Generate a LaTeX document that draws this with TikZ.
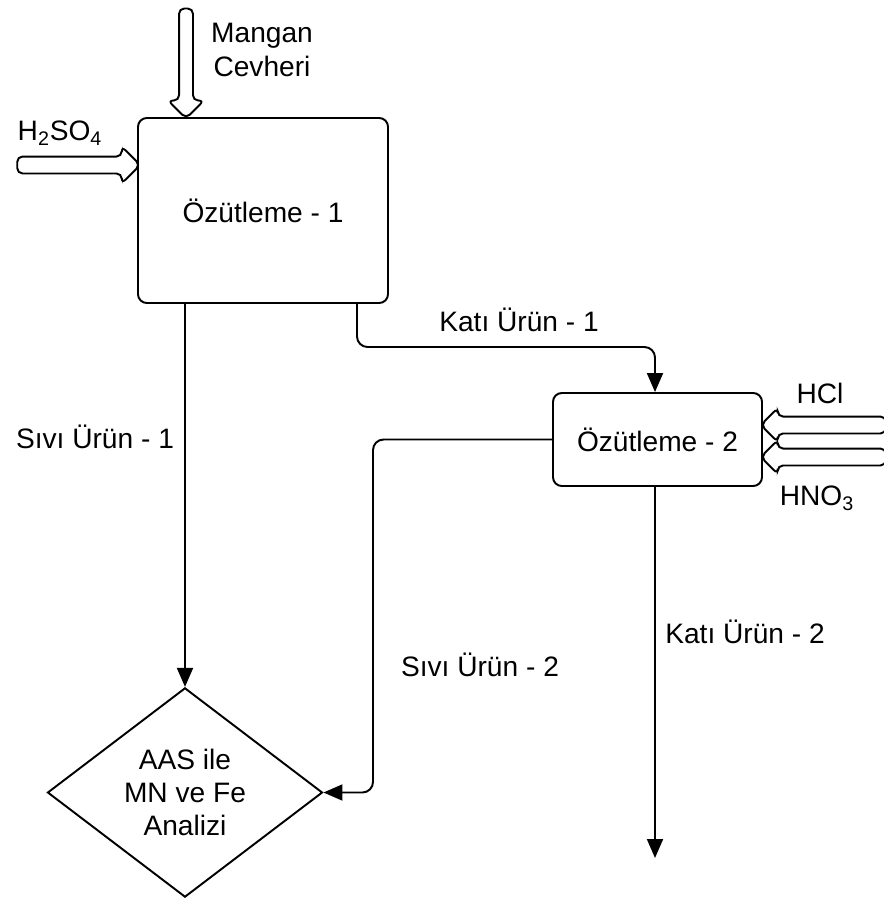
\documentclass[tikz,border=0pt]{standalone}
\usepackage{fontspec}
\setmainfont{Liberation Sans}
\usetikzlibrary{shapes.geometric,shapes.arrows,arrows.meta}
\begin{document}
\begin{tikzpicture}[
  font=\fontsize{16}{19}\selectfont,
  every path/.style={line width=1.1pt},
  proc/.style={draw,rounded corners=5pt,inner sep=0pt},
  dec/.style={draw,diamond,inner sep=0pt,align=center},
  feed/.style={draw,single arrow,rounded corners=3pt,inner xsep=0pt,single arrow tip angle=90},
  lbl/.style={inner sep=1pt,align=center},
  flow/.style={rounded corners=6pt,-{Triangle[length=0.38cm,width=0.32cm]}}]
\useasboundingbox (0,0) rectangle (17.68,-17.98);
\node[proc,minimum width=5.0cm,minimum height=3.7cm] (oz1) at (5.26,-4.21) {Özütleme - 1};
\node[proc,minimum width=4.18cm,minimum height=1.86cm] (oz2) at (13.15,-8.79) {Özütleme - 2};
\node[dec,minimum width=5.5cm,minimum height=4.18cm] (aas) at (3.7,-15.85) {AAS ile\\MN ve Fe\\Analizi};
\node[feed,rotate=-90,minimum height=2.2cm,inner ysep=0.12cm,single arrow head extend=0.22cm] (mangan) at (3.72,-1.2) {};
\node[feed,minimum height=2.46cm,inner ysep=0.15cm,single arrow head extend=0.2cm] (acid) at (1.49,-3.3) {};
\node[feed,rotate=180,minimum height=2.5cm,inner ysep=0.15cm,single arrow head extend=0.17cm] (hcl) at (16.55,-8.5) {};
\node[feed,rotate=180,minimum height=2.5cm,inner ysep=0.15cm,single arrow head extend=0.17cm] (hno) at (16.55,-9.14) {};
\node[lbl] (lmangan) at (5.24,-1.0) {Mangan\\Cevheri};
\node[lbl] (lacid) at (1.2,-2.66) {H\textsubscript{2}SO\textsubscript{4}};
\node[lbl] (lhcl) at (16.4,-7.86) {HCl};
\node[lbl] (lhno) at (16.34,-9.96) {HNO\textsubscript{3}};
\node[lbl] (lkati1) at (10.38,-6.4) {Katı Ürün - 1};
\node[lbl] (lsivi1) at (1.9,-8.74) {Sıvı Ürün - 1};
\node[lbl] (lsivi2) at (9.6,-13.3) {Sıvı Ürün - 2};
\node[lbl] (lkati2) at (14.9,-12.64) {Katı Ürün - 2};
\coordinate (out2) at (13.1,-17.16);
\draw[flow] (oz1.south -| 3.7,0) to (aas.north);
\draw[flow] (oz1.south -| 7.14,0) |- (10,-6.94) -| (oz2.north -| 13.1,0);
\draw[flow] (oz2.west) -| (7.46,-12) |- (aas.east);
\draw[flow] (oz2.south -| 13.1,0) to (out2);
\end{tikzpicture}
\end{document}
